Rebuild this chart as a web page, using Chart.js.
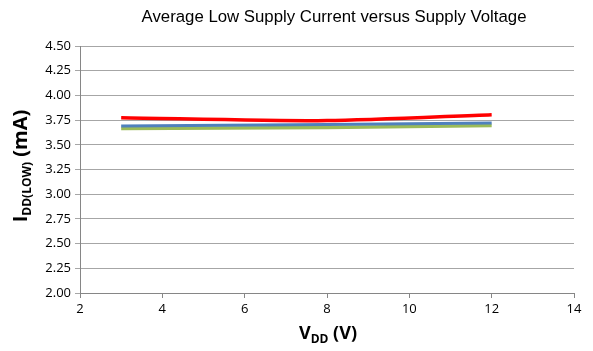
<!DOCTYPE html>
<html>
<head>
<meta charset="utf-8">
<script src="https://cdn.jsdelivr.net/npm/chart.js@4/dist/chart.umd.min.js"></script>
<style>
  html, body { margin: 0; padding: 0; background: #fff; }
  #wrap { width: 593px; height: 351px; }
</style>
</head>
<body>
<div id="wrap"><canvas id="myChart" width="593" height="351"></canvas></div>
<script>
// supply voltage (V) and measured low supply current (mA) per curve
const vdd = [3, 8, 12];
const iddRed = [3.775, 3.745, 3.805];
const iddBlue = [3.69, 3.705, 3.72];
const iddGreen = [3.665, 3.675, 3.695];

const xTicks = [2, 4, 6, 8, 10, 12, 14];
const yMin = 2.0, yMax = 4.5, yStep = 0.25;

const toPoints = (ys) => vdd.map((x, i) => ({ x: x, y: ys[i] }));

// draws the title and the axis titles (with subscripts)
const labelsPlugin = {
  id: 'labels',
  afterDraw(chart) {
    const ctx = chart.ctx;
    const area = chart.chartArea;
    ctx.save();
    ctx.fillStyle = '#000';
    ctx.textBaseline = 'alphabetic';

    // chart title
    ctx.font = '16.8px "Liberation Sans", Arial, sans-serif';
    ctx.textAlign = 'center';
    ctx.fillText('Average Low Supply Current versus Supply Voltage', 334, 22);

    // text with a subscript part, centred on x
    const drawSub = (parts, x, y, big, small) => {
      const fontOf = (p) => p[1] ? 'bold ' + small + 'px "Open Sans", sans-serif'
                                 : 'bold ' + big + 'px "Open Sans", sans-serif';
      let w = 0;
      parts.forEach(p => { ctx.font = fontOf(p); w += ctx.measureText(p[0]).width; });
      let cx = x - w / 2;
      ctx.textAlign = 'left';
      parts.forEach(p => {
        ctx.font = fontOf(p);
        ctx.fillText(p[0], cx, p[1] ? y + 4 : y);
        cx += ctx.measureText(p[0]).width;
      });
    };
    drawSub([['V', false], ['DD', true], [' (V)', false]], (area.left + area.right) / 2 + 1, 339, 18, 12);

    // y axis title: I_DD(LOW) (mA)
    ctx.translate(27, 166);
    ctx.rotate(-Math.PI / 2);
    drawSub([['I', false], ['DD(LOW)', true], [' (mA)', false]], 0, 0, 20, 12);
    ctx.restore();
  }
};

const ctx = document.getElementById('myChart').getContext('2d');
const chart = new Chart(ctx, {
  type: 'scatter',
  data: {
    datasets: [
      { label: 'A', data: toPoints(iddRed), borderColor: '#ff0000', borderWidth: 3.5 },
      { label: 'B', data: toPoints(iddBlue), borderColor: '#4f81bd', borderWidth: 3 },
      { label: 'C', data: toPoints(iddGreen), borderColor: '#9bbb59', borderWidth: 3.5 }
    ].map(d => Object.assign(d, {
      showLine: true,
      pointRadius: 0,
      tension: 0.25,
      fill: false
    }))
  },
  plugins: [labelsPlugin],
  options: {
    responsive: false,
    animation: false,
    layout: { padding: { top: 46, right: 19, left: 0, bottom: 0 } },
    plugins: {
      legend: { display: false },
      title: { display: false },
      tooltip: { enabled: false }
    },
    scales: {
      x: {
        type: 'linear',
        min: xTicks[0],
        max: xTicks[xTicks.length - 1],
        afterBuildTicks: (scale) => { scale.ticks = xTicks.map(v => ({ value: v })); },
        afterFit: (scale) => { scale.height = 58; },
        grid: { drawOnChartArea: false, drawTicks: true, tickLength: 5, color: '#868686' },
        border: { color: '#868686', width: 1 },
        ticks: {
          color: '#000',
          font: { family: '"Open Sans", sans-serif', size: 13 },
          padding: 3,
          maxRotation: 0
        }
      },
      y: {
        min: yMin,
        max: yMax,
        afterFit: (scale) => { scale.width = 80; },
        grid: { color: '#a6a6a6', tickLength: 5, drawTicks: true },
        border: { color: '#868686', width: 1 },
        ticks: {
          stepSize: yStep,
          color: '#000',
          font: { family: '"Open Sans", sans-serif', size: 13 },
          padding: 4,
          callback: (v) => v.toFixed(2)
        }
      }
    }
  }
});
</script>
</body>
</html>
